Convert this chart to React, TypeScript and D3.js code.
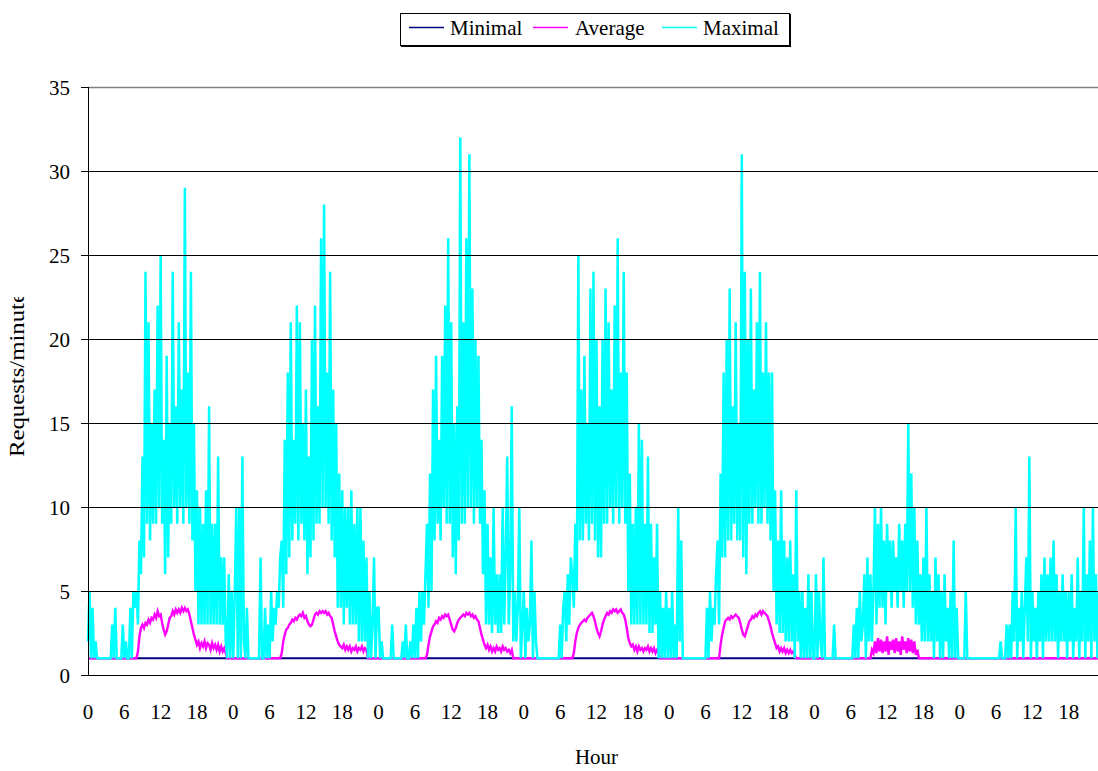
import React from "react";
import * as d3 from "d3";

// ---------- data (15-minute samples, 96 per day; Mon..Sun) ----------
const hourLabels = ["0", "6", "12", "18"];
const yTickValues = [0, 5, 10, 15, 20, 25, 30, 35];
const seriesNames = ["Minimal", "Average", "Maximal"];

const maxMon = [
  2, 5, 1, 4, 1, 2, 1, 1, 1, 1, 1, 1, 1, 1, 1, 1,
  3, 1, 4, 1, 1, 1, 1, 3, 1, 2, 1, 1, 4, 1, 5, 4,
  5, 3, 8, 6, 13, 7, 24, 9, 21, 8, 15, 9, 17, 9, 22, 10,
  25, 9, 14, 6, 19, 7, 15, 9, 24, 10, 16, 9, 21, 10, 17, 9,
  29, 10, 18, 9, 24, 8, 15, 5, 11, 3, 10, 3, 9, 3, 11, 3,
  16, 3, 9, 3, 9, 3, 13, 3, 7, 3, 7, 2, 1, 6, 1, 5,
];
const maxTue = [
  1, 5, 10, 1, 10, 1, 13, 2, 1, 4, 1, 1, 1, 1, 1, 1,
  1, 1, 7, 1, 1, 4, 1, 3, 1, 5, 2, 4, 3, 5, 4, 7,
  8, 4, 14, 6, 18, 7, 21, 8, 14, 9, 22, 8, 21, 9, 15, 8,
  17, 6, 13, 7, 20, 8, 22, 9, 16, 9, 26, 10, 28, 10, 18, 9,
  24, 8, 17, 7, 15, 4, 12, 4, 11, 3, 10, 4, 10, 3, 11, 3,
  9, 3, 10, 2, 10, 2, 8, 2, 7, 1, 5, 1, 3, 7, 1, 4,
];
const maxWed = [
  4, 1, 2, 1, 1, 1, 1, 1, 1, 3, 1, 1, 1, 1, 1, 1,
  2, 1, 3, 1, 1, 2, 1, 3, 1, 4, 1, 5, 2, 5, 3, 6,
  9, 4, 12, 5, 17, 8, 19, 9, 14, 8, 19, 10, 22, 9, 26, 9,
  21, 7, 15, 6, 16, 8, 32, 9, 21, 9, 26, 10, 31, 10, 23, 9,
  20, 10, 19, 9, 14, 6, 11, 3, 9, 3, 7, 2.5, 10, 3, 6, 2.5,
  6, 2.5, 10, 3, 7, 13, 3, 6, 16, 2, 5, 2, 4, 10, 1, 3,
];
const maxThu = [
  5, 1, 4, 2, 3, 8, 1, 5, 2, 1, 1, 1, 1, 1, 1, 1,
  1, 1, 1, 1, 1, 1, 1, 1, 3, 1, 4, 5, 2, 6, 3, 7,
  6, 4, 9, 5, 25, 8, 17, 8, 19, 9, 15, 8, 23, 9, 24, 8,
  20, 7, 16, 7, 20, 9, 23, 9, 21, 10, 17, 9, 22, 10, 26, 9,
  18, 10, 24, 9, 18, 5, 12, 3, 9, 3, 10, 3, 15, 3, 14, 3,
  9, 3, 13, 2.5, 9, 2.5, 7, 3, 9, 1, 5, 1, 4, 1, 5, 1,
];
const maxFri = [
  4, 1, 5, 1, 3, 1, 10, 2, 8, 1, 1, 1, 1, 1, 1, 1,
  1, 1, 1, 1, 1, 1, 1, 1, 1, 4, 1, 5, 2, 4, 3, 6,
  8, 3, 12, 7, 18, 7, 20, 8, 23, 8, 16, 9, 21, 8, 15, 8,
  31, 7, 24, 6, 20, 9, 23, 9, 17, 10, 21, 9, 24, 9, 18, 10,
  21, 9, 18, 8, 18, 5, 11, 3, 8, 2.5, 11, 2.5, 8, 2, 7, 2,
  8, 2, 6, 1, 11, 2, 5, 1, 5, 1, 4, 1, 6, 1, 5, 1,
];
const maxSat = [
  1, 6, 1, 5, 2, 1, 7, 1, 1, 1, 1, 1, 1, 3, 1, 1,
  1, 1, 1, 1, 1, 1, 1, 1, 1, 1, 3, 1, 4, 1, 5, 2,
  3, 6, 1, 7, 2, 6, 2, 5, 10, 3, 9, 4, 10, 4, 8, 3,
  9, 5, 8, 4, 8, 5, 7, 4, 9, 5, 8, 4, 9, 5, 15, 5,
  12, 4, 10, 3, 8, 3, 6, 2, 7, 2, 10, 2, 6, 2, 5, 1,
  7, 2, 6, 1, 5, 1, 6, 2, 4, 1, 5, 1, 8, 1, 4, 1,
];
const maxSun = [
  1, 1, 1, 1, 5, 1, 1, 1, 1, 1, 1, 1, 1, 1, 1, 1,
  1, 1, 1, 1, 1, 1, 1, 1, 1, 1, 1, 2, 1, 1, 1, 3,
  1, 3, 1, 5, 2, 10, 1, 4, 2, 5, 1, 4, 7, 2, 13, 1,
  5, 2, 4, 1, 5, 2, 6, 1, 7, 2, 6, 2, 7, 2, 8, 2,
  6, 1, 5, 2, 6, 2, 5, 1, 5, 2, 6, 1, 4, 2, 7, 1,
  5, 2, 10, 1, 6, 2, 8, 1, 10, 2, 6, 1, 5, 1, 4, 1,
];

const avgMon = [
  1, 1, 1, 1, 1, 1, 1, 1, 1, 1, 1, 1, 1, 1, 1, 1,
  1, 1, 1, 1, 1, 1, 1, 1, 1, 1, 1, 1, 1, 1, 1, 1,
  1, 1.4, 2.3, 2.8, 3.0, 2.8, 3.1, 3.0, 3.3, 3.1, 3.4, 3.3, 3.6, 3.4, 3.8, 3.5,
  3.6, 3.1, 2.7, 2.4, 2.6, 3.0, 3.4, 3.5, 3.8, 3.6, 3.9, 3.7, 3.9, 3.7, 4.0, 3.8,
  4.0, 3.8, 3.9, 3.6, 3.2, 2.8, 2.4, 2.1, 1.8, 2.0, 1.6, 1.9, 1.7, 2.0, 1.6, 1.9,
  1.8, 1.5, 1.9, 1.6, 1.8, 1.5, 1.8, 1.4, 1.7, 1.4, 1.6, 1.3, 1, 1, 1, 1,
];
const avgTue = [
  1, 1, 1, 1, 1, 1, 1, 1, 1, 1, 1, 1, 1, 1, 1, 1,
  1, 1, 1, 1, 1, 1, 1, 1, 1, 1, 1, 1, 1, 1, 1, 1,
  1.3, 2.0, 2.4, 2.7, 2.8, 3.0, 3.1, 3.3, 3.2, 3.4, 3.3, 3.5, 3.6, 3.5, 3.7, 3.4,
  3.5, 3.2, 3.0, 2.9, 3.0, 3.3, 3.6, 3.7, 3.6, 3.8, 3.7, 3.8, 3.7, 3.8, 3.6, 3.7,
  3.5, 3.4, 3.0, 2.6, 2.3, 2.0, 1.8, 1.7, 1.6, 1.8, 1.5, 1.7, 1.5, 1.7, 1.4, 1.6,
  1.5, 1.7, 1.4, 1.6, 1.5, 1.7, 1.4, 1.6, 1.5, 1, 1, 1, 1, 1, 1, 1,
];
const avgWed = [
  1, 1, 1, 1, 1, 1, 1, 1, 1, 1, 1, 1, 1, 1, 1, 1,
  1, 1, 1, 1, 1, 1, 1, 1, 1, 1, 1, 1, 1, 1, 1, 1,
  1.2, 1.8, 2.3, 2.6, 2.9, 3.0, 3.2, 3.1, 3.4, 3.3, 3.5, 3.4, 3.6, 3.5, 3.6, 3.3,
  3.0, 2.7, 2.6, 2.8, 3.1, 3.3, 3.4, 3.5, 3.6, 3.5, 3.7, 3.6, 3.7, 3.5, 3.6, 3.4,
  3.5, 3.3, 3.2, 2.8, 2.4, 2.1, 1.8, 1.6, 1.8, 1.5, 1.7, 1.4, 1.6, 1.4, 1.7, 1.5,
  1.6, 1.4, 1.7, 1.5, 1.6, 1.4, 1.5, 1.3, 1.5, 1, 1, 1, 1, 1, 1, 1,
];
const avgThu = [
  1, 1, 1, 1, 1, 1, 1, 1, 1, 1, 1, 1, 1, 1, 1, 1,
  1, 1, 1, 1, 1, 1, 1, 1, 1, 1, 1, 1, 1, 1, 1, 1,
  1, 1.3, 2.0, 2.5, 2.8, 3.0, 3.1, 3.2, 3.3, 3.2, 3.4, 3.5, 3.6, 3.7, 3.5, 3.2,
  2.8, 2.5, 2.3, 2.6, 3.0, 3.3, 3.5, 3.7, 3.6, 3.8, 3.7, 3.9, 3.8, 3.9, 3.7, 3.8,
  3.9, 3.7, 3.6, 3.3, 2.8, 2.2, 1.9, 1.7, 1.8, 1.5, 1.7, 1.4, 1.7, 1.5, 1.6, 1.4,
  1.6, 1.5, 1.7, 1.4, 1.6, 1.4, 1.6, 1.3, 1.5, 1.3, 1, 1, 1, 1, 1, 1,
];
const avgFri = [
  1, 1, 1, 1, 1, 1, 1, 1, 1, 1, 1, 1, 1, 1, 1, 1,
  1, 1, 1, 1, 1, 1, 1, 1, 1, 1, 1, 1, 1, 1, 1, 1,
  1, 1, 1.8, 2.4, 2.8, 3.2, 3.3, 3.4, 3.3, 3.5, 3.4, 3.5, 3.6, 3.5, 3.4, 3.1,
  2.7, 2.4, 2.3, 2.6, 2.9, 3.2, 3.3, 3.5, 3.4, 3.6, 3.5, 3.7, 3.8, 3.6, 3.8, 3.7,
  3.6, 3.5, 3.2, 2.9, 2.5, 2.2, 1.9, 1.6, 1.7, 1.4, 1.6, 1.4, 1.6, 1.3, 1.5, 1.3,
  1.5, 1.3, 1.4, 1.2, 1, 1, 1, 1, 1, 1, 1, 1, 1, 1, 1, 1,
];
const avgSat = [
  1, 1, 1, 1, 1, 1, 1, 1, 1, 1, 1, 1, 1, 1, 1, 1,
  1, 1, 1, 1, 1, 1, 1, 1, 1, 1, 1, 1, 1, 1, 1, 1,
  1, 1, 1, 1, 1, 1, 1.5, 1.3, 2.0, 1.3, 2.2, 1.4, 2.1, 1.3, 2.0, 1.4,
  2.3, 1.2, 2.0, 1.5, 2.1, 1.3, 2.2, 1.4, 2.0, 1.2, 2.3, 1.5, 2.0, 1.3, 2.2, 1.4,
  2.1, 1.3, 2.0, 1.2, 1.5, 1, 1, 1, 1, 1, 1, 1, 1, 1, 1, 1,
  1, 1, 1, 1, 1, 1, 1, 1, 1, 1, 1, 1, 1, 1, 1, 1,
];
const avgSun = [
  1, 1, 1, 1, 1, 1, 1, 1, 1, 1, 1, 1, 1, 1, 1, 1,
  1, 1, 1, 1, 1, 1, 1, 1, 1, 1, 1, 1, 1, 1, 1, 1,
  1, 1, 1, 1, 1, 1, 1, 1, 1, 1, 1, 1, 1, 1, 1, 1,
  1, 1, 1, 1, 1, 1, 1, 1, 1, 1, 1, 1, 1, 1, 1, 1,
  1, 1, 1, 1, 1, 1, 1, 1, 1, 1, 1, 1, 1, 1, 1, 1,
  1, 1, 1, 1, 1, 1, 1, 1, 1, 1, 1, 1, 1, 1, 1, 1,
];

// Minimal: hourly samples, 24 per day
const minWeekday = [1, 1, 1, 1, 1, 1, 1, 1, 1, 1, 1, 1, 1, 1, 1, 1, 1, 1, 1, 1, 1, 1, 1, 1];
const minWeekend = [1, 1, 1, 1, 1, 1, 1, 1, 1, 1, 1, 1, 1, 1, 1, 1, 1, 1, 1, 1, 1, 1, 1, 1];

const maxDays = [maxMon, maxTue, maxWed, maxThu, maxFri, maxSat, maxSun];
const avgDays = [avgMon, avgTue, avgWed, avgThu, avgFri, avgSat, avgSun];
const minDays = [minWeekday, minWeekday, minWeekday, minWeekday, minWeekday, minWeekend, minWeekend];

type Pt = { t: number; v: number };
const toPoints = (days: number[][]): Pt[] =>
  days.flatMap((arr, d) => arr.map((v, i) => ({ t: d * 24 + (i * 24) / arr.length, v })));

// ---------- layout ----------
const W = 1098;
const H = 771;
const plotLeft = 88;
const plotRight = 1105;
const plotTop = 87;
const plotBottom = 675;
const FONT = "'Liberation Serif', 'Times New Roman', Times, serif";

const colors = { Minimal: "#000080", Average: "#FF00FF", Maximal: "#00FFFF" };

export default function App() {
  const x = d3.scaleLinear().domain([0, 168]).range([plotLeft, plotRight]);
  const y = d3.scaleLinear().domain([0, 35]).range([plotBottom, plotTop]);
  const line = d3
    .line<Pt>()
    .x((d) => x(d.t))
    .y((d) => y(d.v));

  const minPath = line(toPoints(minDays)) || "";
  const avgPath = line(toPoints(avgDays)) || "";
  const maxPath = line(toPoints(maxDays)) || "";

  const xTicks = d3.range(0, 168, 6);

  const legendItems = [
    { name: seriesNames[0], x1: 409, tx: 450 },
    { name: seriesNames[1], x1: 533, tx: 575 },
    { name: seriesNames[2], x1: 662, tx: 703 },
  ];

  const textStyle = { fontFamily: FONT };

  return (
    <svg
      width={W}
      height={H}
      style={{ position: "absolute", left: 0, top: 0, background: "#fff", fontFamily: FONT }}
    >
      <defs>
        <clipPath id="ytitleclip">
          <rect x={0} y={297} width={60} height={400} />
        </clipPath>
      </defs>
      <rect x={0} y={0} width={W} height={H} fill="#fff" />

      {/* series */}
      <path d={minPath} fill="none" stroke={colors.Minimal} strokeWidth={2} />
      <path d={avgPath} fill="none" stroke={colors.Average} strokeWidth={2.4} />
      <path
        d={maxPath}
        fill="none"
        stroke={colors.Maximal}
        strokeWidth={2.5}
        strokeLinejoin="miter"
        strokeMiterlimit={1.5}
      />

      {/* gridlines (drawn over the series, as in the original) */}
      {yTickValues.map((v) => {
        const yy = Math.round(y(v)) + 0.5;
        if (v === 0) return null;
        return (
          <line
            key={"g" + v}
            x1={plotLeft}
            x2={plotRight}
            y1={yy}
            y2={yy}
            stroke={v === 35 ? "#808080" : "#000"}
            strokeWidth={v === 35 ? 1.5 : 1}
          />
        );
      })}

      {/* axes */}
      <line
        x1={plotLeft + 0.5}
        x2={plotLeft + 0.5}
        y1={plotTop}
        y2={plotBottom}
        stroke="#000"
        strokeWidth={1}
      />
      <line
        x1={plotLeft}
        x2={plotRight}
        y1={Math.round(y(0)) + 0.5}
        y2={Math.round(y(0)) + 0.5}
        stroke="#000"
        strokeWidth={1}
      />
      {yTickValues.map((v) => {
        const yy = Math.round(y(v)) + 0.5;
        return (
          <g key={"yt" + v}>
            <line x1={81} x2={plotLeft} y1={yy} y2={yy} stroke="#000" strokeWidth={1} />
            <text x={70} y={yy + 7.5} textAnchor="end" fontSize={21} fill="#000" style={textStyle}>
              {v}
            </text>
          </g>
        );
      })}
      {xTicks.map((t, i) => (
        <text key={"xt" + t} x={x(t)} y={719} textAnchor="middle" fontSize={21} fill="#000" style={textStyle}>
          {hourLabels[i % 4]}
        </text>
      ))}

      {/* axis titles */}
      <text x={(plotLeft + plotRight) / 2} y={764} textAnchor="middle" fontSize={21} fill="#000" style={textStyle}>
        Hour
      </text>
      <g clipPath="url(#ytitleclip)">
        <text
          transform="translate(24,457) rotate(-90)"
          textAnchor="start"
          fontSize={21}
          textLength={165}
          lengthAdjust="spacingAndGlyphs"
          fill="#000"
          style={textStyle}
        >
          Requests/minute
        </text>
      </g>

      {/* legend */}
      <rect x={400.5} y={13.5} width={389} height={32} fill="#fff" stroke="#000" strokeWidth={1} />
      <line x1={401} x2={790} y1={46.5} y2={46.5} stroke="#000" strokeWidth={1} />
      <line x1={790.5} x2={790.5} y1={14} y2={47} stroke="#000" strokeWidth={1} />
      {legendItems.map((it) => (
        <g key={it.name}>
          <line
            x1={it.x1}
            x2={it.x1 + 35}
            y1={27.5}
            y2={27.5}
            stroke={colors[it.name as keyof typeof colors]}
            strokeWidth={1.5}
          />
          <text x={it.tx} y={35} fontSize={21} fill="#000" style={textStyle}>
            {it.name}
          </text>
        </g>
      ))}
    </svg>
  );
}
